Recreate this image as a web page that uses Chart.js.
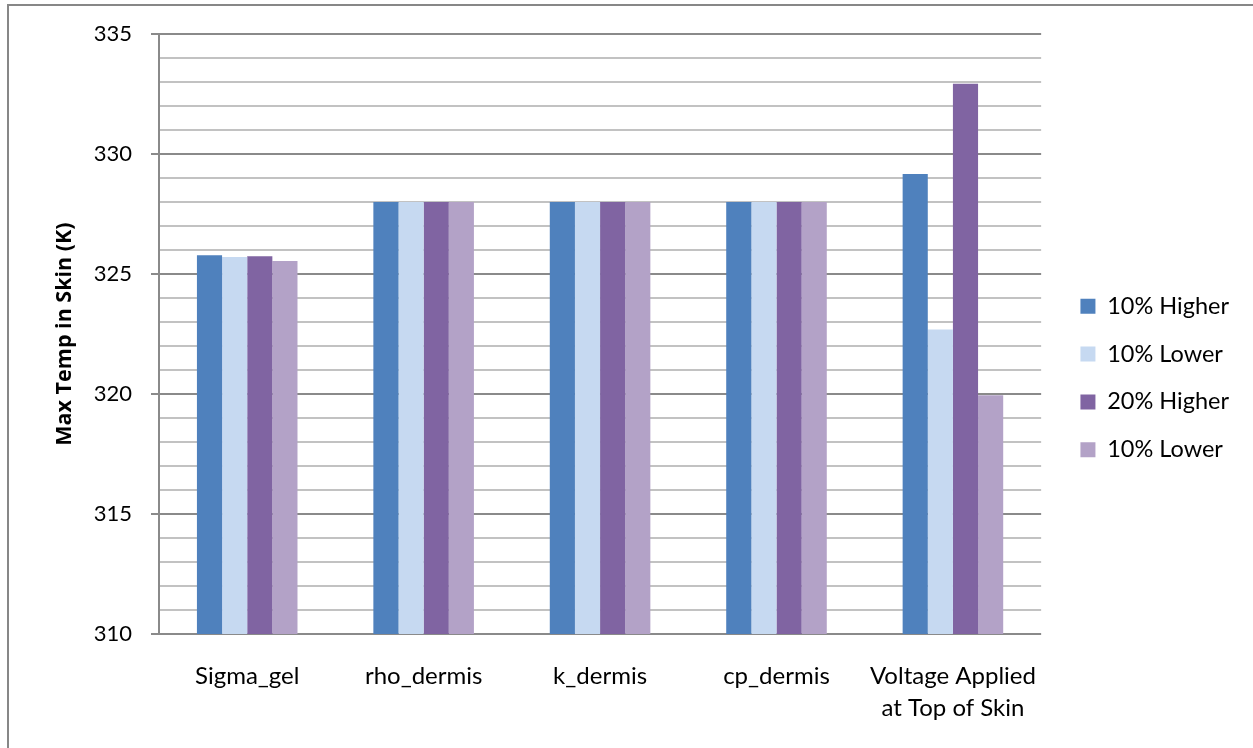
<!DOCTYPE html>
<html>
<head>
<meta charset="utf-8">
<script src="https://cdn.jsdelivr.net/npm/chart.js@4/dist/chart.umd.min.js"></script>
<style>
  html, body { margin: 0; padding: 0; background: #fff; }
  #wrap { position: relative; width: 1253px; height: 748px; overflow: hidden; }
  #frame { position: absolute; left: 7px; top: 4px; width: 1300px; height: 800px;
           border-left: 2px solid #878787; border-top: 2px solid #878787; }
  canvas { position: absolute; left: 0; top: 0; }
</style>
</head>
<body>
<div id="wrap">
  <div id="frame"></div>
  <canvas id="chart" width="1253" height="748"></canvas>
</div>
<script>
// Parameters varied in the skin heating model
const categories = ['Sigma_gel', 'rho_dermis', 'k_dermis', 'cp_dermis', ['Voltage Applied', 'at Top of Skin']];

// Maximum skin temperature (K) for each variation
const higher10 = [325.78, 328.0, 328.0, 328.0, 329.17];
const lower10a = [325.71, 328.0, 328.0, 328.0, 322.69];
const higher20 = [325.74, 328.0, 328.0, 328.0, 332.93];
const lower10b = [325.54, 328.0, 328.0, 328.0, 319.95];

const seriesNames = ['10% Higher', '10% Lower', '20% Higher', '10% Lower'];
const seriesColors = ['#4F81BD', '#C6D9F1', '#8064A2', '#B3A2C7'];

const yMin = 310, yMax = 335, yMajor = 5;

const FONT = 'Lato, "Liberation Sans", sans-serif';
const TITLE_FONT = '"Open Sans", Lato, sans-serif';

const seriesValues = [higher10, lower10a, higher20, lower10b];

new Chart(document.getElementById('chart'), {
  type: 'bar',
  data: {
    labels: categories,
    datasets: seriesValues.map((vals, i) => ({
      label: seriesNames[i],
      data: vals,
      backgroundColor: seriesColors[i],
      borderWidth: 0,
      categoryPercentage: 0.57,
      barPercentage: 1.0
    }))
  },
  options: {
    responsive: false,
    animation: false,
    layout: { padding: { left: 40, top: 34, right: 14, bottom: 26 } },
    plugins: {
      tooltip: { enabled: false },
      legend: {
        position: 'right',
        labels: {
          boxWidth: 15,
          boxHeight: 15,
          padding: 24.3,
          color: '#000',
          font: { family: FONT, size: 23.5 }
        }
      }
    },
    scales: {
      x: {
        grid: { display: false, drawTicks: false },
        border: { display: false },
        ticks: {
          color: '#000',
          padding: 26,
          maxRotation: 0,
          autoSkip: false,
          font: { family: FONT, size: 24, lineHeight: 1.35 }
        },
        afterFit: s => { s.height = 88; }
      },
      y: {
        min: yMin,
        max: yMax,
        ticks: {
          stepSize: 1,
          maxTicksLimit: 40,
          autoSkip: false,
          color: '#000',
          padding: 19,
          font: { family: FONT, size: 22 },
          callback: v => (v % yMajor === 0 ? v : '')
        },
        grid: {
          lineWidth: 2,
          tickLength: 8,
          color: c => (c.tick && c.tick.value % yMajor === 0 ? '#8A8A8A' : '#C2C2C2'),
          tickColor: c => (c.tick && c.tick.value % yMajor === 0 ? '#8A8A8A' : 'rgba(0,0,0,0)')
        },
        border: { color: '#8A8A8A', width: 2 },
        title: {
          display: true,
          text: 'Max Temp in Skin (K)',
          color: '#000',
          font: { family: TITLE_FONT, size: 21.5, weight: 'bold' },
          padding: { top: 12, bottom: 0 }
        },
        afterFit: s => { s.width = 119; }
      },
      ySpacer: {
        type: 'linear',
        position: 'right',
        display: true,
        grid: { display: false, drawTicks: false },
        border: { display: false },
        ticks: { display: false },
        afterFit: s => { s.width = 15; }
      }
    }
  }
});
</script>
</body>
</html>
